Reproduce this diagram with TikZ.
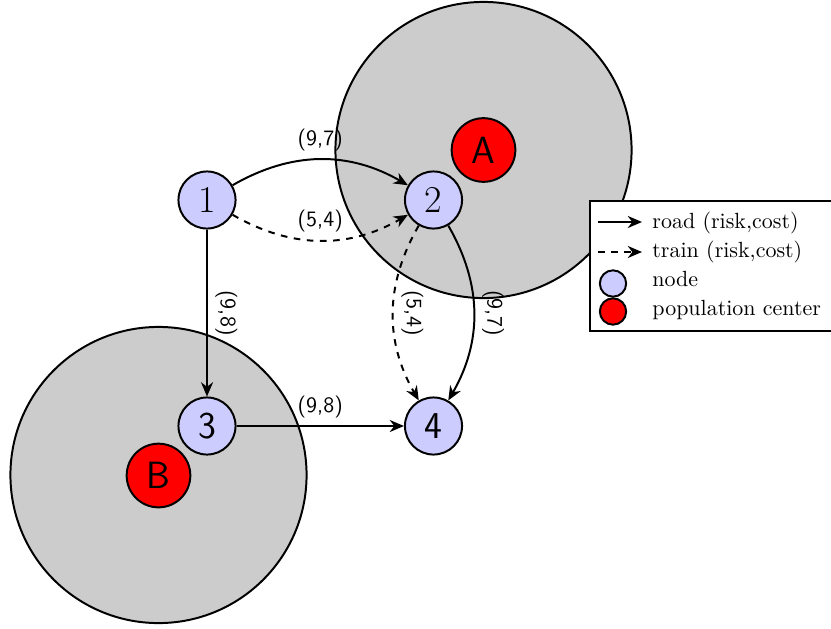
\documentclass[tikz,border=0pt]{standalone}
\usetikzlibrary{arrows.meta}

\tikzset{
  city/.style={circle, draw, line width=0.9pt, fill=blue!20, minimum size=26pt, inner sep=0pt, font=\LARGE},
  popcenter/.style={circle, draw, line width=0.9pt, fill=red, minimum size=29pt, inner sep=0pt, font=\LARGE\sffamily},
  zone/.style={draw, line width=0.9pt, fill=gray!40},
  road/.style={line width=0.9pt, -{Stealth[length=6.5pt,width=5.5pt]}},
  train/.style={road, dashed},
  cost/.style={font=\sffamily, above},
  vcost/.style={cost, rotate=-90},
  legtext/.style={anchor=base west, inner sep=0pt},
}

\begin{document}
\begin{tikzpicture}[x=0.016cm, y=-0.016cm]
\useasboundingbox (0,0) rectangle (831,628);

% risk zones
\draw[zone] (483.5,150) circle[radius=2.37cm];
\draw[zone] (158.5,475) circle[radius=2.37cm];

% nodes
\node[city] (n1) at (207,200) {1};
\node[city] (n2) at (433.5,200) {2};
\node[city, font=\LARGE\sffamily] (n3) at (207,426) {3};
\node[city, font=\LARGE\sffamily] (n4) at (433.5,426) {4};
\node[popcenter] (pA) at (483.5,150) {A};
\node[popcenter] (pB) at (158.5,475.5) {B};

% links
\draw[road] (n1) to[bend left=30] node[cost] {(9,7)} (n2);
\draw[train] (n1) to[bend right=30] node[cost] {(5,4)} (n2);
\draw[road] (n1) -- node[vcost] {(9,8)} (n3);
\draw[road] (n3) -- node[cost] {(9,8)} (n4);
\draw[train] (n2) to[bend right=30] node[vcost] {(5,4)} (n4);
\draw[road] (n2) to[bend left=30] node[vcost] {(9,7)} (n4);

% legend
\draw[line width=0.9pt, fill=white] (590,201) rectangle (836,331);
\coordinate (rs) at (598,222);
\coordinate (re) at (642,222);
\coordinate (ts) at (598,252);
\coordinate (te) at (642,252);
\draw[road] (rs) -- (re);
\draw[train] (ts) -- (te);
\node[city, minimum size=12pt] (lnode) at (613,283.5) {};
\node[popcenter, minimum size=12pt] (lpop) at (613,311.5) {};
\node[legtext] (lroad) at (652,228) {road (risk,cost)};
\node[legtext] (ltrain) at (652,257.5) {train (risk,cost)};
\node[legtext] (lcity) at (652,286) {node};
\node[legtext] (lcenter) at (652,315) {population center};

\end{tikzpicture}
\end{document}
